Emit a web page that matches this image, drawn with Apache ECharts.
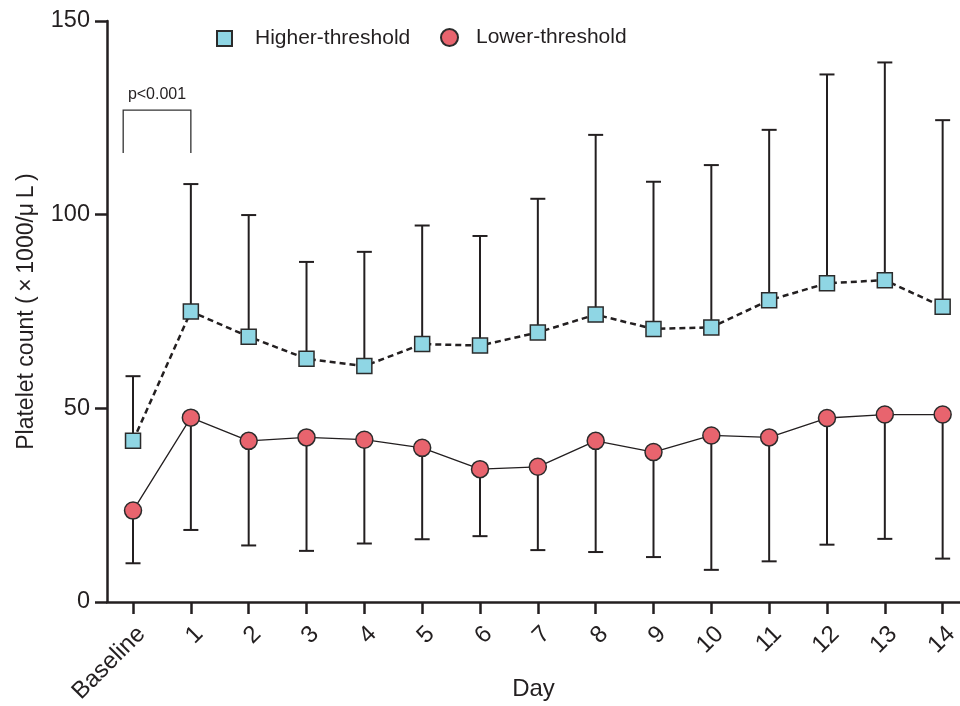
<!DOCTYPE html>
<html>
<head>
<meta charset="utf-8">
<script src="https://cdn.jsdelivr.net/npm/echarts@6/dist/echarts.min.js"></script>
<style>html,body{margin:0;padding:0;background:#fff;}#c{width:960px;height:706px;}</style>
</head>
<body>
<div id="c"></div>
<script>
const categories = ['Baseline','1','2','3','4','5','6','7','8','9','10','11','12','13','14'];
const higherMean  = [41.6, 75.0, 68.5, 62.8, 60.9, 66.6, 66.2, 69.6, 74.2, 70.5, 70.9, 77.9, 82.3, 83.1, 76.2];
const higherUpper = [58.3, 107.9, 99.9, 87.8, 90.4, 97.2, 94.5, 104.1, 120.6, 108.5, 112.8, 121.9, 136.2, 139.3, 124.4];
const lowerMean   = [23.6, 47.6, 41.6, 42.5, 41.9, 39.8, 34.3, 34.9, 41.6, 38.7, 43.0, 42.5, 47.5, 48.4, 48.4];
const lowerLower  = [10.0, 18.6, 14.6, 13.2, 15.1, 16.2, 17.0, 13.4, 12.9, 11.6, 8.3, 10.5, 14.8, 16.3, 11.2];
const yTicks = [0, 50, 100, 150];
const bracketX = [-0.17, 1];
const bracketTop = 127.0;
const bracketBottom = 115.9;
const pLabel = 'p<0.001';
const yName = 'Platelet count (\u2009×\u20091000/μ\u2009L\u2009)';

const FONT = '"Liberation Sans", Arial, Helvetica, sans-serif';
const INK = '#231f20';
const idx = categories.map((c, i) => i);

function errorBarRender(params, api) {
  const x = api.value(0);
  const p1 = api.coord([x, api.value(1)]);
  const p2 = api.coord([x, api.value(2)]);
  const hw = 7.5;
  const st = { stroke: INK, lineWidth: 2, fill: null };
  return {
    type: 'group',
    children: [
      { type: 'line', shape: { x1: p1[0], y1: p1[1], x2: p2[0], y2: p2[1] }, style: st },
      { type: 'line', shape: { x1: p2[0] - hw, y1: p2[1], x2: p2[0] + hw, y2: p2[1] }, style: st }
    ]
  };
}

const chart = echarts.init(document.getElementById('c'), null, { renderer: 'canvas' });
chart.setOption({
  animation: false,
  backgroundColor: '#fff',
  textStyle: { fontFamily: FONT },
  grid: { left: 107, right: 0, top: 21, bottom: 104, containLabel: false, outerBoundsMode: 'none' },
  legend: [
    {
      data: [{ name: 'Higher-threshold', icon: 'rect' }],
      left: 211, top: 23, itemWidth: 15, itemHeight: 15,
      selectedMode: false,
      textStyle: { fontSize: 21, color: INK, fontFamily: FONT, padding: [0, 0, 0, 18] }
    },
    {
      data: [{ name: 'Lower-threshold', icon: 'circle' }],
      left: 435, top: 22, itemWidth: 17, itemHeight: 17,
      selectedMode: false,
      textStyle: { fontSize: 21, color: INK, fontFamily: FONT, padding: [0, 0, 0, 13] }
    }
  ],
  xAxis: {
    type: 'value',
    min: -0.45, max: 14.3,
    splitLine: { show: false },
    axisLine: { onZero: false, lineStyle: { color: INK, width: 2.5 } },
    axisTick: { customValues: idx, length: 12, lineStyle: { color: INK, width: 2.5 } },
    axisLabel: {
      customValues: idx,
      rotate: 45, margin: 20, fontSize: 24, color: INK, fontFamily: FONT,
      verticalAlign: 'top',
      formatter: v => categories[Math.round(v)]
    },
    name: 'Day', nameLocation: 'middle', nameGap: 75, nameMoveOverlap: false,
    nameTextStyle: { fontSize: 24, color: INK, fontFamily: FONT }
  },
  yAxis: {
    type: 'value',
    min: 0, max: 150, interval: 50,
    splitLine: { show: false },
    axisLine: { show: true, onZero: false, lineStyle: { color: INK, width: 2.5 } },
    axisTick: { show: true, customValues: yTicks, length: 12, lineStyle: { color: INK, width: 2.5 } },
    axisLabel: { customValues: yTicks, margin: 17, fontSize: 23.5, color: INK, fontFamily: FONT },
    name: yName, nameLocation: 'middle', nameGap: 69, nameMoveOverlap: false,
    nameTextStyle: { fontSize: 23, color: INK, fontFamily: FONT }
  },
  series: [
    {
      type: 'custom', name: 'hErr', z: 1, silent: true,
      renderItem: errorBarRender,
      data: idx.map(i => [i, higherMean[i], higherUpper[i]])
    },
    {
      type: 'custom', name: 'lErr', z: 1, silent: true,
      renderItem: errorBarRender,
      data: idx.map(i => [i, lowerMean[i], lowerLower[i]])
    },
    {
      type: 'line', name: 'Higher-threshold', z: 3,
      data: idx.map(i => [i, higherMean[i]]),
      symbol: 'rect', symbolSize: 15,
      lineStyle: { color: INK, width: 2.5, type: [6, 4] },
      itemStyle: { color: '#8fd6e4', borderColor: '#2b2b2b', borderWidth: 1.5 }
    },
    {
      type: 'line', name: 'Lower-threshold', z: 3,
      data: idx.map(i => [i, lowerMean[i]]),
      symbol: 'circle', symbolSize: 17,
      lineStyle: { color: INK, width: 1.3 },
      itemStyle: { color: '#e8646e', borderColor: '#2b2b2b', borderWidth: 1.5 }
    },
    {
      type: 'custom', name: 'bracket', z: 2, silent: true,
      renderItem: function (params, api) {
        const a = api.coord([bracketX[0], bracketBottom]);
        const b = api.coord([bracketX[0], bracketTop]);
        const c = api.coord([bracketX[1], bracketTop]);
        const d = api.coord([bracketX[1], bracketBottom]);
        return {
          type: 'group',
          children: [
            { type: 'polyline', shape: { points: [a, b, c, d] }, style: { stroke: '#333', lineWidth: 1.3, fill: null } },
            { type: 'text', style: { text: pLabel, x: (b[0] + c[0]) / 2, y: b[1] - 7, align: 'center', verticalAlign: 'bottom', fontSize: 16, fontFamily: FONT, fill: INK } }
          ]
        };
      },
      data: [[0]]
    }
  ]
});
</script>
</body>
</html>
